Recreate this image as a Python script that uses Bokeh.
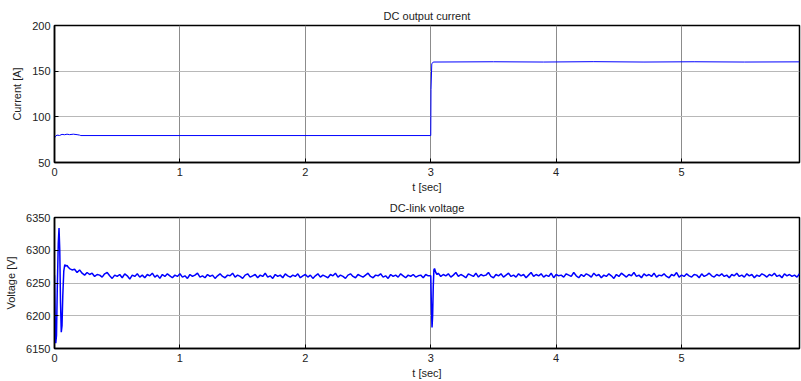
import numpy as np
from bokeh.plotting import figure
from bokeh.layouts import column
from bokeh.models import Range1d, FixedTicker
from bokeh.embed import file_html
from bokeh.resources import INLINE

# ---------------- data ----------------
x_ticks = [0, 1, 2, 3, 4, 5]
cur_ticks = [50, 100, 150, 200]
volt_ticks = [6150, 6200, 6250, 6300, 6350]

t_cur = [0.0, 0.005, 0.01, 0.02, 0.04, 0.06, 0.08, 0.10, 0.12, 0.15, 0.18, 0.20, 0.21,
         2.995, 3.0, 3.002, 3.008, 3.02, 3.5, 3.9, 4.3, 4.7, 5.1, 5.5, 5.94]
i_cur = [77, 78, 79, 80, 79.6, 80.8, 80.4, 81, 80.5, 81, 80.5, 80, 79.5,
         79.5, 79.5, 130, 158, 160, 160.3, 160, 160.4, 160, 160.3, 160, 160.2]

# voltage: start-up transient
t_v0 = [0.0, 0.005, 0.01, 0.016, 0.022, 0.03, 0.036, 0.042, 0.048, 0.054, 0.06,
        0.066, 0.074, 0.082, 0.09, 0.10, 0.11]
v_v0 = [6262, 6200, 6158, 6170, 6240, 6310, 6334, 6300, 6220, 6175, 6185,
        6230, 6268, 6278, 6276, 6277, 6274]
# voltage: 0.12 s .. 2.98 s, every 0.02 s
v_a = [6272, 6270, 6271, 6266, 6270, 6265, 6262, 6266, 6263, 6265,
       6260, 6263, 6262, 6259, 6264, 6266, 6261, 6257, 6262, 6260,
       6263, 6258, 6264, 6261, 6256, 6262, 6260, 6264, 6259, 6262,
       6258, 6263, 6261, 6265, 6259, 6262, 6257, 6263, 6260, 6264,
       6261, 6258, 6262, 6260, 6264, 6259, 6261, 6257, 6263, 6260,
       6262, 6265, 6259, 6261, 6258, 6263, 6260, 6262, 6257, 6261,
       6264, 6260, 6258, 6262, 6261, 6265, 6259, 6262, 6260, 6257,
       6262, 6264, 6259, 6261, 6263, 6258, 6262, 6260, 6265, 6259,
       6261, 6257, 6263, 6260, 6262, 6258, 6264, 6261, 6259, 6262,
       6260, 6264, 6258, 6261, 6263, 6259, 6262, 6257, 6261, 6264,
       6259, 6262, 6260, 6258, 6263, 6261, 6265, 6259, 6262, 6260,
       6257, 6262, 6264, 6260, 6258, 6263, 6261, 6259, 6262, 6265,
       6260, 6258, 6262, 6261, 6264, 6259, 6261, 6257, 6263, 6260,
       6262, 6259, 6264, 6261, 6258, 6262, 6260, 6263, 6259, 6261,
       6262, 6258, 6263, 6261]
# voltage: load-step transient at 3 s
t_v1 = [3.0, 3.005, 3.01, 3.015, 3.02, 3.025, 3.03, 3.04, 3.05]
v_v1 = [6261, 6215, 6182, 6200, 6245, 6270, 6272, 6266, 6263]
# voltage: 3.06 s .. 5.94 s, every 0.02 s
v_b = [6265, 6260, 6263, 6261, 6264, 6259, 6262, 6266, 6260, 6263,
       6261, 6258, 6264, 6262, 6260, 6265, 6259, 6263, 6261, 6262,
       6266, 6260, 6258, 6263, 6261, 6264, 6259, 6262, 6265, 6260,
       6262, 6259, 6264, 6261, 6263, 6258, 6262, 6266, 6260, 6263,
       6261, 6264, 6259, 6262, 6260, 6265, 6258, 6263, 6261, 6262,
       6259, 6264, 6262, 6260, 6266, 6261, 6258, 6263, 6260, 6264,
       6262, 6259, 6265, 6261, 6263, 6258, 6262, 6260, 6264, 6261,
       6257, 6263, 6260, 6265, 6262, 6259, 6263, 6261, 6266, 6260,
       6262, 6258, 6264, 6261, 6263, 6260, 6265, 6259, 6262, 6261,
       6264, 6260, 6258, 6263, 6261, 6266, 6259, 6262, 6260, 6264,
       6261, 6259, 6263, 6262, 6258, 6264, 6260, 6262, 6265, 6261,
       6259, 6263, 6261, 6264, 6260, 6262, 6258, 6263, 6261, 6265,
       6260, 6262, 6259, 6264, 6261, 6263, 6258, 6262, 6260, 6264,
       6262, 6259, 6263, 6261, 6265, 6260, 6262, 6258, 6264, 6261,
       6263, 6260, 6262, 6259, 6264]

t_a = list(np.round(0.12 + 0.02 * np.arange(len(v_a)), 3))
t_b = list(np.round(3.06 + 0.02 * np.arange(len(v_b)), 3))
t_volt = t_v0 + t_a + t_v1 + t_b
v_volt = v_v0 + v_a + v_v1 + v_b

FONT = "Liberation Sans"
W = 801


def style(p, yticks, ylabel, title):
    p.title.text = title
    p.title.align = "center"
    p.title.text_font = FONT
    p.title.text_font_size = "11px"
    p.title.text_font_style = "normal"
    p.title.text_color = "#222222"
    p.title.offset = 0
    p.title.standoff = 8
    p.xaxis.ticker = FixedTicker(ticks=x_ticks)
    p.yaxis.ticker = FixedTicker(ticks=yticks)
    p.xgrid.ticker = FixedTicker(ticks=x_ticks)
    p.ygrid.ticker = FixedTicker(ticks=yticks)
    for ax in (p.xaxis[0], p.yaxis[0]):
        ax.axis_line_color = "black"
        ax.axis_line_width = 1.5
        ax.major_tick_in = 4
        ax.major_tick_out = 0
        ax.major_tick_line_color = "black"
        ax.minor_tick_line_color = None
        ax.major_label_text_font = FONT
        ax.major_label_text_font_size = "11px"
        ax.major_label_text_color = "#222222"
        ax.axis_label_text_font = FONT
        ax.axis_label_text_font_size = "11px"
        ax.axis_label_text_font_style = "normal"
        ax.axis_label_text_color = "#222222"
    p.xaxis.axis_label = "t [sec]"
    p.xaxis.axis_label_standoff = 2
    p.xaxis.major_label_standoff = 5
    p.yaxis.axis_label = ylabel
    p.yaxis.axis_label_standoff = 6
    p.yaxis.major_label_standoff = 4
    p.xgrid.grid_line_color = "#8c8c8c"
    p.xgrid.grid_line_width = 1
    p.ygrid.grid_line_color = "#b8b8b8"
    p.ygrid.grid_line_width = 1.2
    p.outline_line_color = "black"
    p.outline_line_width = 1.5
    p.outline_line_alpha = 1
    p.background_fill_color = "white"
    p.border_fill_color = "white"


p1 = figure(width=W, height=195, output_backend="svg", toolbar_location=None,
            x_range=Range1d(0, 5.94), y_range=Range1d(50, 200),
            min_border_left=54, min_border_right=2, min_border_top=25,
            min_border_bottom=33)
p1.line(t_cur, i_cur, line_color="#0000ff", line_width=1)
style(p1, cur_ticks, "Current [A]", "DC output current")

p2 = figure(width=W, height=186, output_backend="svg", toolbar_location=None,
            x_range=Range1d(0, 5.94), y_range=Range1d(6150, 6350),
            min_border_left=54, min_border_right=2, min_border_top=21,
            min_border_bottom=29)
p2.line(t_volt, v_volt, line_color="#0000ff", line_width=1.5)
style(p2, volt_ticks, "Voltage [V]", "DC-link voltage")

layout = column(p1, p2, spacing=0)
open("out.html", "w").write(file_html(layout, INLINE))
